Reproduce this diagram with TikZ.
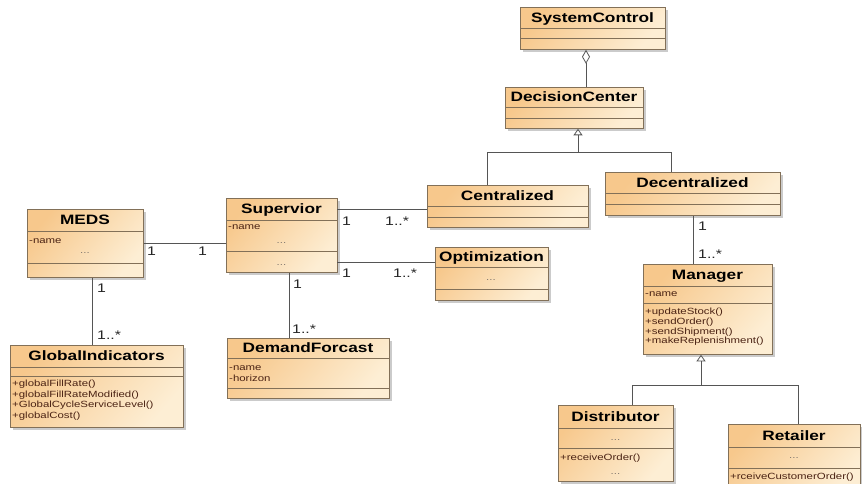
\documentclass[tikz,border=0pt]{standalone}
\usepackage{fontspec}
\setmainfont{Liberation Sans}[FakeStretch=1.27]
\usetikzlibrary{arrows.meta,shadows}

\definecolor{boxleft}{RGB}{247,200,140}
\definecolor{boxright}{RGB}{253,238,212}
\definecolor{boxline}{RGB}{130,112,88}
\definecolor{linkgray}{RGB}{85,85,85}
\definecolor{membertext}{RGB}{75,35,20}
\definecolor{dotgray}{RGB}{130,120,110}

\tikzset{
  classbox/.style={draw=boxline, line width=0.8pt, top color=boxleft, bottom color=boxright,
    shading angle=50,
    drop shadow={shadow xshift=2.5pt, shadow yshift=-2.5pt, fill=black!40, opacity=0.5},
    inner sep=0pt, anchor=north west},
  sepline/.style={draw=boxline, line width=0.7pt},
  classtitle/.style={font=\fontsize{13.6}{15}\selectfont\bfseries, anchor=base, inner sep=0pt},
  member/.style={font=\fontsize{9}{10}\selectfont, text=membertext, anchor=base west, inner sep=0pt},
  dots/.style={font=\fontsize{9}{10}\selectfont, text=dotgray, anchor=base, inner sep=0pt},
  mult/.style={font=\fontsize{12.5}{14}\selectfont, text=black!85, anchor=base west, inner sep=0pt},
  link/.style={draw=linkgray, line width=0.8pt},
  inherit/.style={link, -{Triangle[open, length=6.5pt, width=9pt, fill=white]}},
  aggregate/.style={link, -{Diamond[open, length=14pt, width=8pt, fill=white]}},
}

% name, left, top, right, bottom, first separator, second separator, title
\newcommand\umlclass[8]{%
  \node[classbox, minimum width={#4-#2}, minimum height={#5-#3}] (#1) at (#2,#3) {};
  \draw[sepline] (#2,#6) -- (#4,#6);
  \draw[sepline] (#2,#7) -- (#4,#7);
  \node[classtitle] (#1-title) at ({(#2+#4)/2},{(#3+#6)/2+4.9}) {#8};
}

\begin{document}
\begin{tikzpicture}[x=1pt, y=-1pt]
\fill[white] (0,0) rectangle (862,484);
\useasboundingbox (0,0) rectangle (862,484);

% classes
\umlclass{systemcontrol}{520}{7}{665}{49}{28}{38}{SystemControl}
\umlclass{decisioncenter}{505}{87}{643}{128}{107}{118}{DecisionCenter}
\umlclass{centralized}{427}{185}{588}{227}{206}{217}{Centralized}
\umlclass{decentralized}{605}{172}{780}{215}{193}{204}{Decentralized}
\umlclass{optimization}{435}{247}{548}{300}{267}{289}{Optimization}
\umlclass{meds}{27}{209}{143}{277}{231}{263}{MEDS}
\umlclass{supervior}{226}{198}{337}{272}{220}{251}{Supervior}
\umlclass{globalindicators}{10}{345}{183}{427}{367}{376}{GlobalIndicators}
\umlclass{demandforcast}{227}{338}{389}{398}{358}{388}{DemandForcast}
\umlclass{manager}{643}{264}{772}{354}{286}{303}{Manager}
\umlclass{distributor}{558}{405}{673}{481}{428}{448}{Distributor}
\umlclass{retailer}{728}{424}{860}{492}{447}{468}{Retailer}

% members
\node[dots] (optimization-d1) at (491,280) {...};

\node[member] (meds-a1) at (29,243) {-name};
\node[dots] (meds-d1) at (85,253) {...};

\node[member] (supervior-a1) at (228,229.5) {-name};
\node[dots] (supervior-d1) at (281.5,243) {...};
\node[dots] (supervior-d2) at (281.5,265) {...};

\node[member] (globalindicators-m1) at (12,386.5) {+globalFillRate()};
\node[member] (globalindicators-m2) at (12,397) {+globalFillRateModified()};
\node[member] (globalindicators-m3) at (12,407.5) {+GlobalCycleServiceLevel()};
\node[member] (globalindicators-m4) at (12,418) {+globalCost()};

\node[member] (demandforcast-a1) at (229,370.5) {-name};
\node[member] (demandforcast-a2) at (229,381) {-horizon};

\node[member] (manager-a1) at (645,296.5) {-name};
\node[member] (manager-m1) at (645,314.5) {+updateStock()};
\node[member] (manager-m2) at (645,324.3) {+sendOrder()};
\node[member] (manager-m3) at (645,334.1) {+sendShipment()};
\node[member] (manager-m4) at (645,343.9) {+makeReplenishment()};

\node[dots] (distributor-d1) at (615.5,440.5) {...};
\node[member] (distributor-m1) at (560,460) {+receiveOrder()};
\node[dots] (distributor-d2) at (615.5,474) {...};

\node[dots] (retailer-d1) at (794,458) {...};
\node[member] (retailer-m1) at (730,479) {+rceiveCustomerOrder()};

% aggregation
\coordinate (aggx) at (586,0);
\draw[aggregate] (aggx |- decisioncenter.north) -- (aggx |- systemcontrol.south);

% generalization of DecisionCenter
\coordinate (dcjoin) at (578,152);
\coordinate (cjoin) at (487,152);
\coordinate (djoin) at (671,152);
\draw[inherit] (dcjoin) -- (dcjoin |- decisioncenter.south);
\draw[link] (cjoin |- centralized.north) -- (cjoin) -- (djoin) -- (djoin |- decentralized.north);

% generalization of Manager
\coordinate (mjoin) at (701,385);
\coordinate (distjoin) at (632,385);
\coordinate (retjoin) at (798,385);
\draw[inherit] (mjoin) -- (mjoin |- manager.south);
\draw[link] (distjoin |- distributor.north) -- (distjoin) -- (retjoin) -- (retjoin |- retailer.north);

% associations
\draw[link] (meds.east) -- (meds.east -| supervior.west);
\node[mult] (m-meds-a) at (147,255) {1};
\node[mult] (m-meds-b) at (198,255) {1};

\coordinate (supcent) at (337,209);
\draw[link] (supcent) -- (supcent -| centralized.west);
\node[mult] (m-cent-a) at (342,225) {1};
\node[mult] (m-cent-b) at (385,225) {1..*};

\coordinate (supopt) at (337,262);
\draw[link] (supopt) -- (supopt -| optimization.west);
\node[mult] (m-opt-a) at (342,277) {1};
\node[mult] (m-opt-b) at (393,277) {1..*};

\coordinate (supdem) at (289,0);
\draw[link] (supdem |- supervior.south) -- (supdem |- demandforcast.north);
\node[mult] (m-dem-a) at (293,288) {1};
\node[mult] (m-dem-b) at (292,333) {1..*};

\coordinate (medsgi) at (92,0);
\draw[link] (medsgi |- meds.south) -- (medsgi |- globalindicators.north);
\node[mult] (m-gi-a) at (97,292) {1};
\node[mult] (m-gi-b) at (97,339) {1..*};

\coordinate (decman) at (693,0);
\draw[link] (decman |- decentralized.south) -- (decman |- manager.north);
\node[mult] (m-man-a) at (698,230) {1};
\node[mult] (m-man-b) at (698,258) {1..*};
\end{tikzpicture}
\end{document}
